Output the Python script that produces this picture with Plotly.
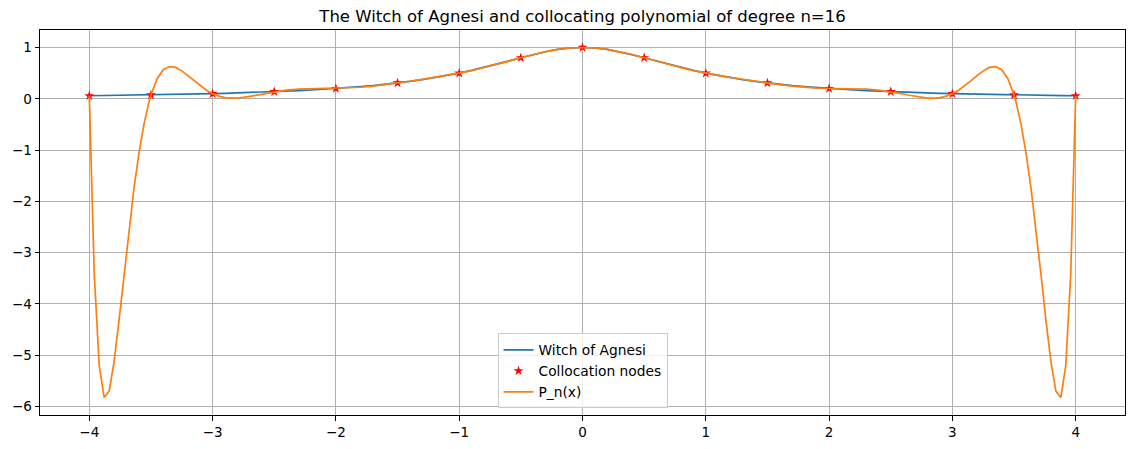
import plotly.graph_objects as go

# Witch of Agnesi curve
witch_x = [-4.0, -3.9, -3.8, -3.7, -3.6, -3.5, -3.4, -3.3, -3.2, -3.1, -3.0, -2.9, -2.8, -2.7, -2.6, -2.5,
           -2.4, -2.3, -2.2, -2.1, -2.0, -1.9, -1.8, -1.7, -1.6, -1.5, -1.4, -1.3, -1.2, -1.1, -1.0,
           -0.9, -0.8, -0.7, -0.6, -0.5, -0.4, -0.3, -0.2, -0.1, 0.0,
           0.1, 0.2, 0.3, 0.4, 0.5, 0.6, 0.7, 0.8, 0.9, 1.0, 1.1, 1.2, 1.3, 1.4, 1.5, 1.6, 1.7, 1.8, 1.9, 2.0,
           2.1, 2.2, 2.3, 2.4, 2.5, 2.6, 2.7, 2.8, 2.9, 3.0, 3.1, 3.2, 3.3, 3.4, 3.5, 3.6, 3.7, 3.8, 3.9, 4.0]
witch_y = [0.0588, 0.0617, 0.0648, 0.0681, 0.0716, 0.0755, 0.0796, 0.0841, 0.0890, 0.0942, 0.1000,
           0.1063, 0.1131, 0.1206, 0.1289, 0.1379, 0.1479, 0.1590, 0.1712, 0.1848, 0.2000,
           0.2169, 0.2358, 0.2571, 0.2809, 0.3077, 0.3378, 0.3717, 0.4098, 0.4525, 0.5000,
           0.5525, 0.6098, 0.6711, 0.7353, 0.8000, 0.8621, 0.9174, 0.9615, 0.9901, 1.0000,
           0.9901, 0.9615, 0.9174, 0.8621, 0.8000, 0.7353, 0.6711, 0.6098, 0.5525, 0.5000,
           0.4525, 0.4098, 0.3717, 0.3378, 0.3077, 0.2809, 0.2571, 0.2358, 0.2169, 0.2000,
           0.1848, 0.1712, 0.1590, 0.1479, 0.1379, 0.1289, 0.1206, 0.1131, 0.1063, 0.1000,
           0.0942, 0.0890, 0.0841, 0.0796, 0.0755, 0.0716, 0.0681, 0.0648, 0.0617, 0.0588]

# Collocation nodes
node_x = [-4.0, -3.5, -3.0, -2.5, -2.0, -1.5, -1.0, -0.5, 0.0, 0.5, 1.0, 1.5, 2.0, 2.5, 3.0, 3.5, 4.0]
node_y = [0.0588, 0.0755, 0.1000, 0.1379, 0.2000, 0.3077, 0.5000, 0.8000, 1.0000,
          0.8000, 0.5000, 0.3077, 0.2000, 0.1379, 0.1000, 0.0755, 0.0588]

# Collocating polynomial P_n(x)
poly_x = [-4.0, -3.9598, -3.9196, -3.8794, -3.8392, -3.799, -3.7588, -3.7186, -3.6784, -3.6382, -3.598,
          -3.5578, -3.5176, -3.5, -3.45, -3.4, -3.35, -3.3, -3.25, -3.2, -3.15, -3.1, -3.05, -3.0,
          -2.95, -2.9, -2.85, -2.8, -2.75, -2.7, -2.65, -2.6, -2.55, -2.5,
          -2.4, -2.3, -2.2, -2.1, -2.0, -1.9, -1.8, -1.7, -1.6, -1.5, -1.4, -1.3, -1.2, -1.1, -1.0,
          -0.9, -0.8, -0.7, -0.6, -0.5, -0.4, -0.3, -0.2, -0.1, 0.0,
          0.1, 0.2, 0.3, 0.4, 0.5, 0.6, 0.7, 0.8, 0.9, 1.0, 1.1, 1.2, 1.3, 1.4, 1.5, 1.6, 1.7, 1.8, 1.9, 2.0,
          2.1, 2.2, 2.3, 2.4, 2.5, 2.55, 2.6, 2.65, 2.7, 2.75, 2.8, 2.85, 2.9, 2.95, 3.0,
          3.05, 3.1, 3.15, 3.2, 3.25, 3.3, 3.35, 3.4, 3.45, 3.5, 3.5176, 3.5578, 3.598, 3.6382,
          3.6784, 3.7186, 3.7588, 3.799, 3.8392, 3.8794, 3.9196, 3.9598, 4.0]
poly_y = [0.0588, -3.421, -5.201, -5.825, -5.700, -5.125, -4.317, -3.426, -2.551, -1.753, -1.068,
          -0.5086, -0.0759, 0.0755, 0.3923, 0.5653, 0.6276, 0.6112, 0.5445, 0.4510, 0.3489, 0.2513, 0.1668, 0.1000,
          0.0526, 0.0241, 0.0123, 0.0142, 0.0266, 0.0459, 0.0690, 0.0934, 0.1168, 0.1379,
          0.1699, 0.1875, 0.1945, 0.1967, 0.2000, 0.2086, 0.2243, 0.2471, 0.2755, 0.3077, 0.3421, 0.3779, 0.4154, 0.4556, 0.5000,
          0.5499, 0.6060, 0.6678, 0.7335, 0.8000, 0.8634, 0.9191, 0.9627, 0.9905, 1.0000,
          0.9905, 0.9627, 0.9191, 0.8634, 0.8000, 0.7335, 0.6678, 0.6060, 0.5499, 0.5000,
          0.4556, 0.4154, 0.3779, 0.3421, 0.3077, 0.2755, 0.2471, 0.2243, 0.2086, 0.2000,
          0.1967, 0.1945, 0.1875, 0.1699, 0.1379, 0.1168, 0.0934, 0.0690, 0.0459, 0.0266, 0.0142, 0.0123, 0.0241, 0.0526, 0.1000,
          0.1668, 0.2513, 0.3489, 0.4510, 0.5445, 0.6112, 0.6276, 0.5653, 0.3923, 0.0755, -0.0759, -0.5086, -1.068, -1.753,
          -2.551, -3.426, -4.317, -5.125, -5.700, -5.825, -5.201, -3.421, 0.0588]

x_ticks = [-4, -3, -2, -1, 0, 1, 2, 3, 4]
y_ticks = [-6, -5, -4, -3, -2, -1, 0, 1]

FONT = "DejaVu Sans"

fig = go.Figure()
fig.add_trace(go.Scatter(x=witch_x, y=witch_y, mode="lines", name="Witch of Agnesi",
                         legendgroup="a", line=dict(color="#1f77b4", width=1.7)))
fig.add_trace(go.Scatter(x=node_x, y=node_y, mode="markers", name="Collocation nodes",
                         legendgroup="b",
                         marker=dict(symbol="star", color="red", size=7.5, line=dict(width=0))))
fig.add_trace(go.Scatter(x=poly_x, y=poly_y, mode="lines", name="P_n(x)",
                         legendgroup="c", line=dict(color="#ff7f0e", width=1.7)))

axis_common = dict(showline=True, linecolor="black", linewidth=1, mirror=True,
                   ticks="outside", ticklen=4.5, tickcolor="black", tickwidth=1,
                   showgrid=True, gridcolor="#b0b0b0", gridwidth=1, zeroline=False,
                   tickfont=dict(family=FONT, size=13.5, color="black"))

fig.update_layout(
    width=1135, height=449,
    margin=dict(l=40, r=10, t=30, b=34),
    paper_bgcolor="white", plot_bgcolor="white",
    title=dict(text="The Witch of Agnesi and collocating polynomial of degree n=16",
               x=0.5, xref="paper", xanchor="center", y=1 - 16 / 449, yanchor="middle",
               font=dict(family=FONT, size=16.5, color="black")),
    xaxis=dict(range=[-4.4, 4.4], tickvals=x_ticks, **axis_common),
    yaxis=dict(range=[-6.166, 1.341], tickvals=y_ticks, **axis_common),
    legend=dict(x=0.5, xanchor="center", y=0.017, yanchor="bottom",
                bgcolor="rgba(255,255,255,0.8)", bordercolor="#cccccc", borderwidth=1,
                font=dict(family=FONT, size=13.8, color="black"),
                itemwidth=30, traceorder="grouped", tracegroupgap=0),
    showlegend=True,
)

fig.write_html("out.html")
